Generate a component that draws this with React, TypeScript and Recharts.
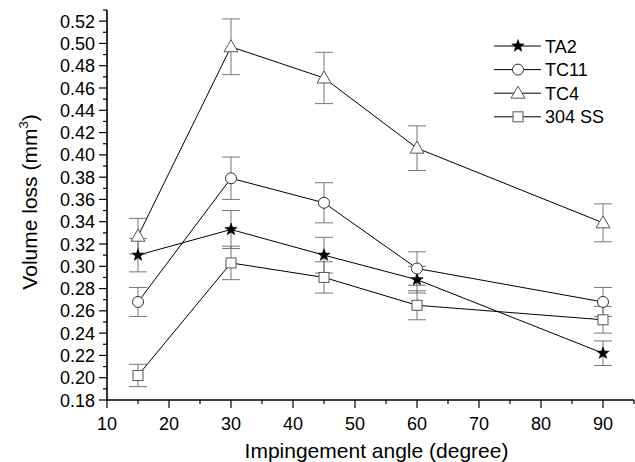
import {
  ComposedChart,
  ErrorBar,
  Line,
  XAxis,
  YAxis,
} from "recharts";

const angles = [15, 30, 45, 60, 90];

const ta2 = [0.31, 0.333, 0.31, 0.288, 0.222];
const ta2Err = [0.015, 0.017, 0.016, 0.012, 0.011];
const tc11 = [0.268, 0.379, 0.357, 0.298, 0.268];
const tc11Err = [0.013, 0.019, 0.018, 0.015, 0.013];
const tc4 = [0.327, 0.497, 0.469, 0.406, 0.339];
const tc4Err = [0.016, 0.025, 0.023, 0.02, 0.017];
const ss304 = [0.202, 0.303, 0.29, 0.265, 0.252];
const ss304Err = [0.01, 0.015, 0.014, 0.013, 0.012];

const xTicks = [10, 15, 20, 25, 30, 35, 40, 45, 50, 55, 60, 65, 70, 75, 80, 85, 90, 95];
const xLabels = [10, 20, 30, 40, 50, 60, 70, 80, 90];
const yTicks = [
  0.18, 0.19, 0.2, 0.21, 0.22, 0.23, 0.24, 0.25, 0.26, 0.27, 0.28, 0.29, 0.3,
  0.31, 0.32, 0.33, 0.34, 0.35, 0.36, 0.37, 0.38, 0.39, 0.4, 0.41, 0.42, 0.43,
  0.44, 0.45, 0.46, 0.47, 0.48, 0.49, 0.5, 0.51, 0.52, 0.53,
];
const yLabels = [
  "0.18", "0.20", "0.22", "0.24", "0.26", "0.28", "0.30", "0.32", "0.34",
  "0.36", "0.38", "0.40", "0.42", "0.44", "0.46", "0.48", "0.50", "0.52",
];

const data = angles.map((a, i) => ({
  angle: a,
  ta2: ta2[i],
  ta2Err: ta2Err[i],
  tc11: tc11[i],
  tc11Err: tc11Err[i],
  tc4: tc4[i],
  tc4Err: tc4Err[i],
  ss304: ss304[i],
  ss304Err: ss304Err[i],
}));

const FONT = '"Liberation Sans", Arial, sans-serif';
const ERR = "#777";

type Shape = "star" | "circle" | "triangle" | "square";

function Marker({ cx, cy, shape }: { cx: number; cy: number; shape: Shape }) {
  if (shape === "star") {
    const pts: string[] = [];
    for (let k = 0; k < 10; k++) {
      const r = k % 2 === 0 ? 6.5 : 2.7;
      const a = -Math.PI / 2 + (k * Math.PI) / 5;
      pts.push(`${cx + r * Math.cos(a)},${cy + r * Math.sin(a)}`);
    }
    return <polygon points={pts.join(" ")} fill="#000" stroke="#000" strokeWidth={0.5} />;
  }
  if (shape === "circle") {
    return <circle cx={cx} cy={cy} r={5.5} fill="#fff" stroke="#333" strokeWidth={1} />;
  }
  if (shape === "triangle") {
    return (
      <polygon
        points={`${cx},${cy - 7} ${cx - 7},${cy + 5} ${cx + 7},${cy + 5}`}
        fill="#fff"
        stroke="#555"
        strokeWidth={1}
      />
    );
  }
  return (
    <rect x={cx - 5} y={cy - 5} width={10} height={10} fill="#fff" stroke="#555" strokeWidth={1} />
  );
}

const series: { key: string; name: string; shape: Shape }[] = [
  { key: "ta2", name: "TA2", shape: "star" },
  { key: "tc11", name: "TC11", shape: "circle" },
  { key: "tc4", name: "TC4", shape: "triangle" },
  { key: "ss304", name: "304 SS", shape: "square" },
];

function YTick(props: any) {
  const { x, y, payload } = props;
  const v = Math.round(payload.value * 100);
  const major = v % 2 === 0;
  return (
    <g>
      <line x1={x} x2={x - (major ? 8 : 4)} y1={y} y2={y} stroke="#000" strokeWidth={1.2} />
      {major && (
        <text x={x - 12} y={y + 6.5} textAnchor="end" fontSize={18} fontFamily={FONT} fill="#000">
          {yLabels[(v - 18) / 2]}
        </text>
      )}
    </g>
  );
}

function XTick(props: any) {
  const { x, y, payload } = props;
  const major = xLabels.includes(payload.value);
  return (
    <g>
      <line x1={x} x2={x} y1={y} y2={y + (major ? 8 : 4)} stroke="#000" strokeWidth={1.2} />
      {major && (
        <text x={x} y={y + 29.5} textAnchor="middle" fontSize={18} fontFamily={FONT} fill="#000">
          {payload.value}
        </text>
      )}
    </g>
  );
}

function LegendBox() {
  return (
    <svg width={130} height={96} style={{ display: "block" }}>
      {series.map((s, i) => {
        const cy = 12 + i * 23.6;
        return (
          <g key={s.key}>
            <line x1={0} x2={47} y1={cy} y2={cy} stroke="#000" strokeWidth={1} />
            <Marker cx={24} cy={cy} shape={s.shape} />
            <text x={51} y={cy + 6.5} fontSize={18} fontFamily={FONT} fill="#000">
              {s.name}
            </text>
          </g>
        );
      })}
    </svg>
  );
}

export default function App() {
  return (
    <div style={{ position: "absolute", left: 0, top: 0, width: 635, height: 462, background: "#fff" }}>
      <ComposedChart
        width={635}
        height={462}
        data={data}
        margin={{ top: 10, right: 1, bottom: 0, left: 0 }}
      >
        <XAxis
          dataKey="angle"
          type="number"
          domain={[10, 95]}
          ticks={xTicks}
          interval={0}
          height={62}
          tickSize={0}
          tickMargin={0}
          tickLine={false}
          tick={<XTick />}
          axisLine={{ stroke: "#000", strokeWidth: 1.6 }}
          label={{
            content: (p: any) => (
              <text
                x={p.viewBox.x + p.viewBox.width / 2 + 6}
                y={p.viewBox.y + 58}
                textAnchor="middle"
                fontSize={21}
                fontFamily={FONT}
                fill="#000"
              >
                Impingement angle (degree)
              </text>
            ),
          }}
        />
        <XAxis
          xAxisId="top"
          orientation="top"
          type="number"
          domain={[10, 95]}
          height={0}
          tick={false}
          tickLine={false}
          axisLine={{ stroke: "#000", strokeWidth: 1.6 }}
        />
        <YAxis
          type="number"
          domain={[0.18, 0.53]}
          ticks={yTicks}
          interval={0}
          width={107}
          tickSize={0}
          tickMargin={0}
          tickLine={false}
          tick={<YTick />}
          axisLine={{ stroke: "#000", strokeWidth: 1.6 }}
          label={{
            content: (p: any) => {
              const cx = p.viewBox.x + 37;
              const cy = p.viewBox.y + 192;
              return (
                <text
                  x={cx}
                  y={cy}
                  transform={`rotate(-90, ${cx}, ${cy})`}
                  textAnchor="middle"
                  fontSize={21}
                  fontFamily={FONT}
                  fill="#000"
                >
                  Volume loss (mm
                  <tspan fontSize={13} dy={-9}>
                    3
                  </tspan>
                  <tspan dy={9}>)</tspan>
                </text>
              );
            },
          }}
        />
        <YAxis
          yAxisId="right"
          orientation="right"
          type="number"
          domain={[0.18, 0.53]}
          width={0}
          tick={false}
          tickLine={false}
          axisLine={{ stroke: "#000", strokeWidth: 1.6 }}
        />
        {series.map((s) => (
          <Line
            key={s.key}
            dataKey={s.key}
            name={s.name}
            stroke="#000"
            strokeWidth={1}
            isAnimationActive={false}
            dot={(p: any) => <Marker key={`${s.key}-${p.index}`} cx={p.cx} cy={p.cy} shape={s.shape} />}
            activeDot={false}
          >
            <ErrorBar dataKey={`${s.key}Err`} width={9} stroke={ERR} strokeWidth={1} direction="y" />
          </Line>
        ))}
      </ComposedChart>
      <div style={{ position: "absolute", left: 494, top: 34 }}>
        <LegendBox />
      </div>
    </div>
  );
}
